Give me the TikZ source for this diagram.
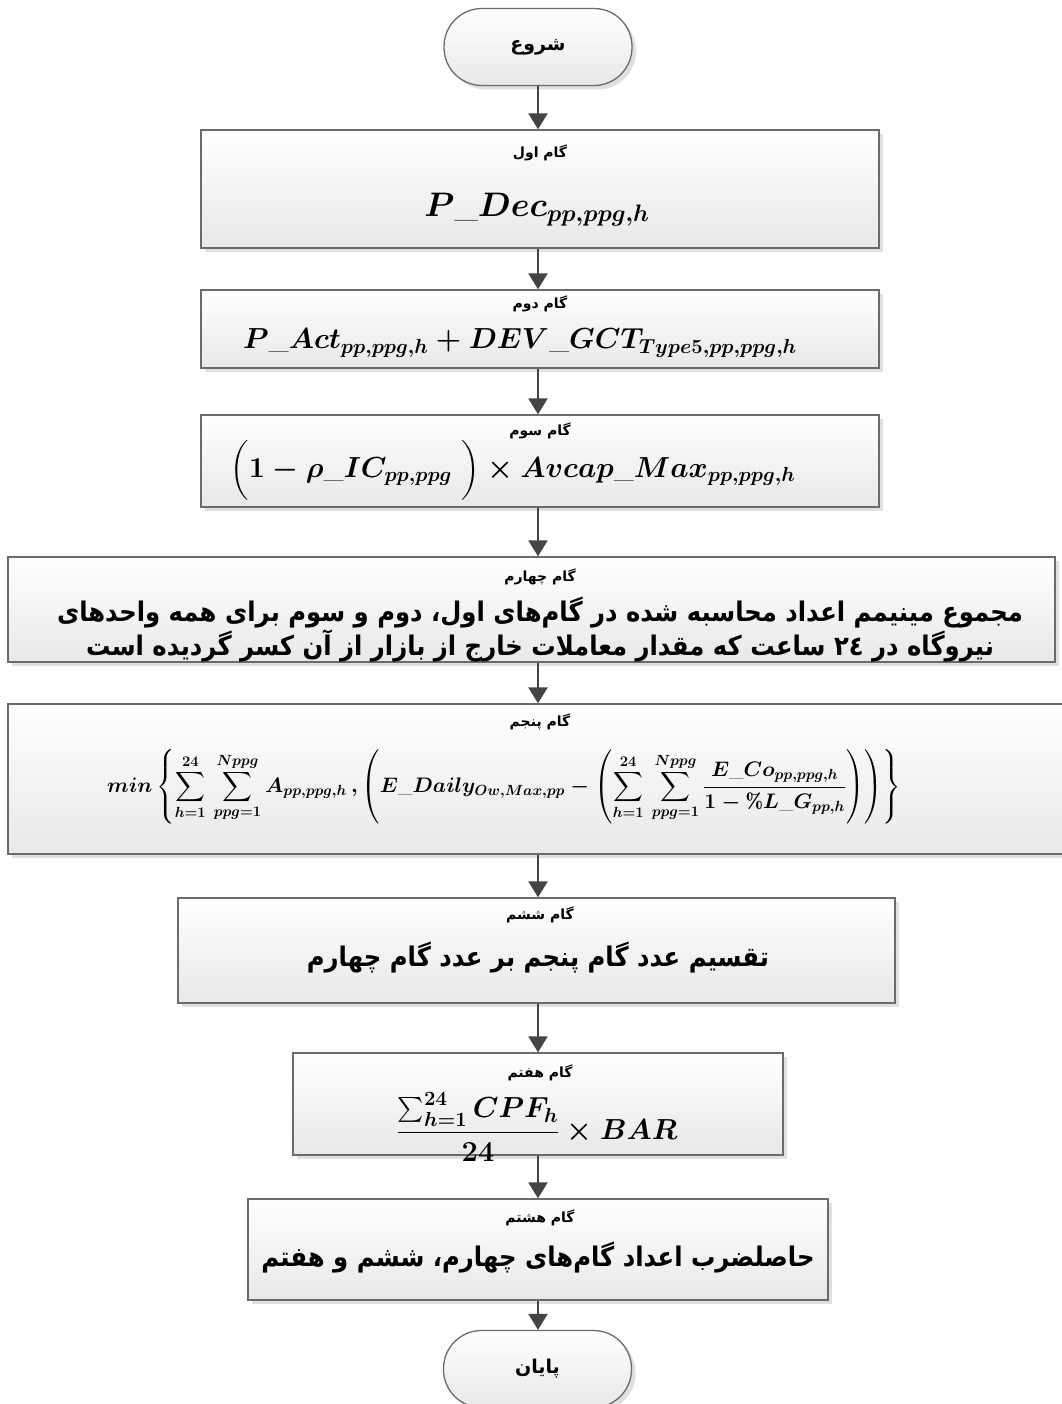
\RequirePackage{fix-cm}
\documentclass[tikz,border=0pt]{standalone}
\usepackage{amsmath}
\usepackage{fontspec}
\usetikzlibrary{arrows.meta,shadows}
\newfontfamily\farsifont[Script=Arabic]{DejaVu Sans}
\newfontfamily\farsinarrow[Script=Arabic, FakeStretch=0.9]{DejaVu Sans}
\TeXXeTstate=1

\definecolor{boxline}{HTML}{6B6B6B}
\definecolor{boxbottom}{HTML}{E8E8E8}
\definecolor{flowgray}{HTML}{444444}

\tikzset{
  stepbox/.style={draw=boxline, line width=1.3pt, top color=white, bottom color=boxbottom,
    drop shadow={shadow xshift=4pt, shadow yshift=-4pt, fill=gray!40, opacity=0.6}, inner sep=0pt},
  termbox/.style={stepbox, rounded corners=38pt, minimum width=188pt, minimum height=77pt,
    font=\farsifont\bfseries\fontsize{19}{23}\selectfont},
  steptitle/.style={font=\farsifont\bfseries\fontsize{14}{16}\selectfont, inner sep=0pt},
  steptext/.style={font=\farsinarrow\bfseries\fontsize{27}{34}\selectfont, align=center, inner sep=0pt},
  stepmath/.style={font=\mathversion{bold}\fontsize{29}{34}\selectfont, inner sep=0pt},
  flow/.style={draw=flowgray, line width=2.4pt, -{Triangle[width=19pt,length=16pt]}},
}

\begin{document}
\begin{tikzpicture}[x=1pt, y=-1pt]
  \useasboundingbox (0,0) rectangle (1061,1404);
  % start
  \node[termbox] (start) at (538,47) {\beginR شروع\endR};
  % step 1
  \node[stepbox, minimum width=678pt, minimum height=118pt] (b1) at (540,189) {};
  \node[steptitle] (t1) at (540,153) {\beginR گام اول\endR};
  \node[stepmath, font=\mathversion{bold}\fontsize{34}{40}\selectfont] (m1) at (537,210) {$P\_Dec_{pp,ppg,h}$};
  % step 2
  \node[stepbox, minimum width=678pt, minimum height=78pt] (b2) at (540,329) {};
  \node[steptitle] (t2) at (540,304) {\beginR گام دوم\endR};
  \node[stepmath] (m2) at (520,343) {$P\_Act_{pp,ppg,h} + DEV\_GCT_{Type5,pp,ppg,h}$};
  % step 3
  \node[stepbox, minimum width=678pt, minimum height=92pt] (b3) at (540,461) {};
  \node[steptitle] (t3) at (540,431) {\beginR گام سوم\endR};
  \node[stepmath] (m3) at (513,470) {$\Bigl(1-\rho\_IC_{pp,ppg}\;\Bigr)\times Avcap\_Max_{pp,ppg,h}$};
  % step 4
  \node[stepbox, minimum width=1047pt, minimum height=105pt] (b4) at (531.5,609.5) {};
  \node[steptitle] (t4) at (540,577) {\beginR گام چهارم\endR};
  \node[steptext] (s4) at (540,630) {\beginR مجموع مینیمم اعداد محاسبه شده در گام‌های اول،  دوم و سوم برای همه واحدهای\endR\\
    \beginR نیروگاه در ٢٤ ساعت که مقدار معاملات خارج از بازار از آن کسر گردیده است\endR};
  % step 5
  \node[stepbox, minimum width=1058pt, minimum height=150pt] (b5) at (537,779) {};
  \node[steptitle] (t5) at (540,722) {\beginR گام پنجم\endR};
  \node[stepmath, font=\mathversion{bold}\fontsize{21}{25}\selectfont] (m5) at (504,787)
    {$\displaystyle min\left\{\sum_{h=1}^{24}\,\sum_{ppg=1}^{Nppg}A_{pp,ppg,h}\,,\left(E\_Daily_{Ow,Max,pp}-\left(\sum_{h=1}^{24}\,\sum_{ppg=1}^{Nppg}\frac{E\_Co_{pp,ppg,h}}{1-\%L\_G_{pp,h}}\right)\right)\right\}$};
  % step 6
  \node[stepbox, minimum width=717pt, minimum height=105pt] (b6) at (536.5,950.5) {};
  \node[steptitle] (t6) at (540,915) {\beginR گام ششم\endR};
  \node[steptext] (s6) at (538,958) {\beginR تقسیم عدد گام پنجم بر عدد گام چهارم\endR};
  % step 7
  \node[stepbox, minimum width=490pt, minimum height=102pt] (b7) at (538,1104) {};
  \node[steptitle] (t7) at (540,1073) {\beginR گام هفتم\endR};
  \node[stepmath] (m7) at (537,1127) {$\dfrac{\sum\nolimits_{h=1}^{24}CPF_h}{24}\times BAR$};
  % step 8
  \node[stepbox, minimum width=580pt, minimum height=101pt] (b8) at (538,1249.5) {};
  \node[steptitle] (t8) at (540,1218) {\beginR گام هشتم\endR};
  \node[steptext] (s8) at (538,1258) {\beginR حاصلضرب اعداد گام‌های چهارم، ششم و هفتم\endR};
  % end
  \node[termbox] (end) at (537.5,1369) {\beginR پایان\endR};
  % arrows
  \foreach \a/\b in {start/b1,b1/b2,b2/b3,b3/b4,b4/b5,b5/b6,b6/b7,b7/b8,b8/end}
    \draw[flow] (\a.south -| start) -- (\b.north -| start);
\end{tikzpicture}
\end{document}
